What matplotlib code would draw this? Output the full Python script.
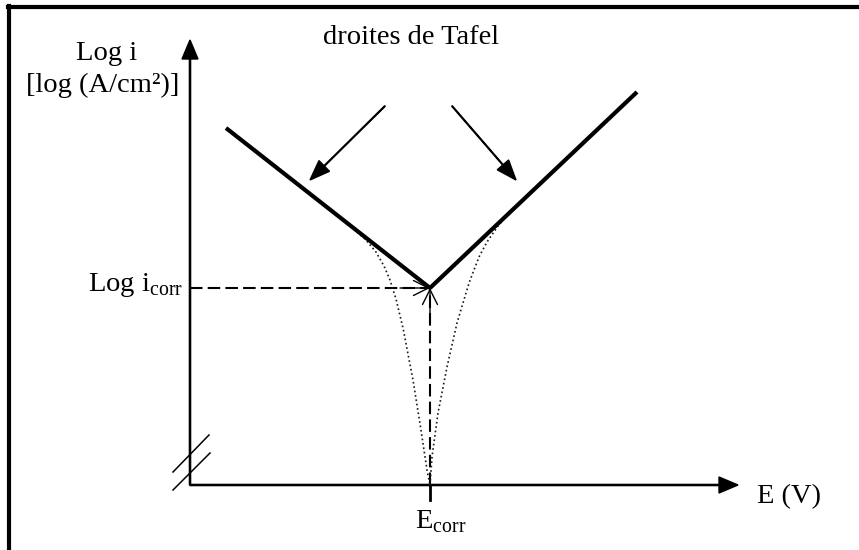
import matplotlib.pyplot as plt
from matplotlib.lines import Line2D

# Tafel schematic: potential E (x) vs log current density (y), arbitrary units
E_corr = 2.40
log_i_corr = 1.97

# Tafel straight lines (cathodic and anodic branches)
cath_E = [0.36, E_corr]
cath_logi = [3.57, log_i_corr]
anod_E = [E_corr, 4.47]
anod_logi = [log_i_corr, 3.93]

# measured polarisation curve (dotted), read along each branch
curve_left_E = [0.60, 1.10, 1.40, 1.60, 1.75, 1.86, 1.94, 2.00, 2.06, 2.13, 2.23, 2.31, 2.37, 2.40]
curve_left_logi = [3.38, 2.99, 2.75, 2.59, 2.46, 2.33, 2.19, 2.05, 1.86, 1.57, 1.05, 0.55, 0.15, 0.0]
curve_right_E = [2.40, 2.42, 2.48, 2.57, 2.67, 2.79, 2.89, 2.97, 3.08, 3.20, 3.70, 4.20]
curve_right_logi = [0.0, 0.28, 0.72, 1.18, 1.62, 2.02, 2.28, 2.43, 2.59, 2.73, 3.20, 3.67]

plt.rcParams['font.family'] = ['Liberation Serif', 'DejaVu Serif']
plt.rcParams['mathtext.fontset'] = 'custom'
plt.rcParams['mathtext.rm'] = 'Liberation Serif'

fs = 20.5

fig = plt.figure(figsize=(8.59, 5.5), dpi=100)
ax = fig.add_axes([0, 0, 1, 1])
ax.set_xlim(-1.90, 6.69)
ax.set_ylim(-0.65, 4.85)
ax.axis('off')

# frame lines (top and left)
fig.add_artist(Line2D([0.009, 1.0], [0.987, 0.987], color='black', lw=3, transform=fig.transFigure))
fig.add_artist(Line2D([0.0105, 0.0105], [0.0, 0.99], color='black', lw=3, transform=fig.transFigure))

# axes with arrows
ax.arrow(0, 0, 0, 4.45, width=0.012, head_width=0.16, head_length=0.19,
         length_includes_head=True, fc='black', ec='black')
ax.arrow(0, 0, 5.48, 0, width=0.012, head_width=0.16, head_length=0.19,
         length_includes_head=True, fc='black', ec='black')

# axis break marks
ax.plot([-0.17, 0.19], [0.13, 0.50], color='black', lw=1.1)
ax.plot([-0.17, 0.20], [-0.05, 0.32], color='black', lw=1.1)

# tick at E_corr
ax.plot([E_corr, E_corr], [0, -0.15], color='black', lw=2)

# dashed guides to the intersection
ax.plot([0, E_corr], [log_i_corr, log_i_corr], color='black', lw=1.5, ls=(0, (6, 2.5)))
ax.plot([E_corr, E_corr], [0, log_i_corr], color='black', lw=1.5, ls=(0, (6, 2.5)))
ax.annotate('', xy=(E_corr, log_i_corr), xytext=(E_corr - 0.3, log_i_corr),
            arrowprops=dict(arrowstyle='->,head_length=0.6,head_width=0.3', lw=1, color='black',
                            shrinkA=0, shrinkB=0, mutation_scale=18))
ax.annotate('', xy=(E_corr, log_i_corr), xytext=(E_corr, log_i_corr - 0.3),
            arrowprops=dict(arrowstyle='->,head_length=0.6,head_width=0.3', lw=1, color='black',
                            shrinkA=0, shrinkB=0, mutation_scale=18))

# dotted real curve
ax.plot(curve_left_E, curve_left_logi, color='#1a1a1a', lw=1.2, ls=':')
ax.plot(curve_right_E, curve_right_logi, color='#1a1a1a', lw=1.2, ls=':')

# Tafel lines
ax.plot(cath_E, cath_logi, color='black', lw=3, solid_capstyle='butt')
ax.plot(anod_E, anod_logi, color='black', lw=3, solid_capstyle='butt')

# pointer arrows from the label
ax.arrow(1.95, 3.79, -0.75, -0.74, width=0.008, head_width=0.15, head_length=0.2,
         length_includes_head=True, fc='black', ec='black')
ax.arrow(2.62, 3.79, 0.64, -0.74, width=0.008, head_width=0.15, head_length=0.2,
         length_includes_head=True, fc='black', ec='black')

# labels
ax.text(2.21, 4.47, 'droites de Tafel', ha='center', va='center', fontsize=fs)
ax.text(-0.83, 4.25, 'Log i', ha='center', va='baseline', fontsize=fs)
ax.text(-0.87, 3.93, '[log (A/cm²)]', ha='center', va='baseline', fontsize=fs)
ax.text(-0.07, log_i_corr - 0.03, r'Log i$_{\mathrm{corr}}$', ha='right', va='baseline', fontsize=fs)
ax.text(5.67, -0.12, 'E (V)', ha='left', va='center', fontsize=fs)
ax.text(2.25, -0.43, r'E$_{\mathrm{corr}}$', ha='left', va='baseline', fontsize=fs)

fig.savefig('out.png', dpi=100, facecolor='white')
